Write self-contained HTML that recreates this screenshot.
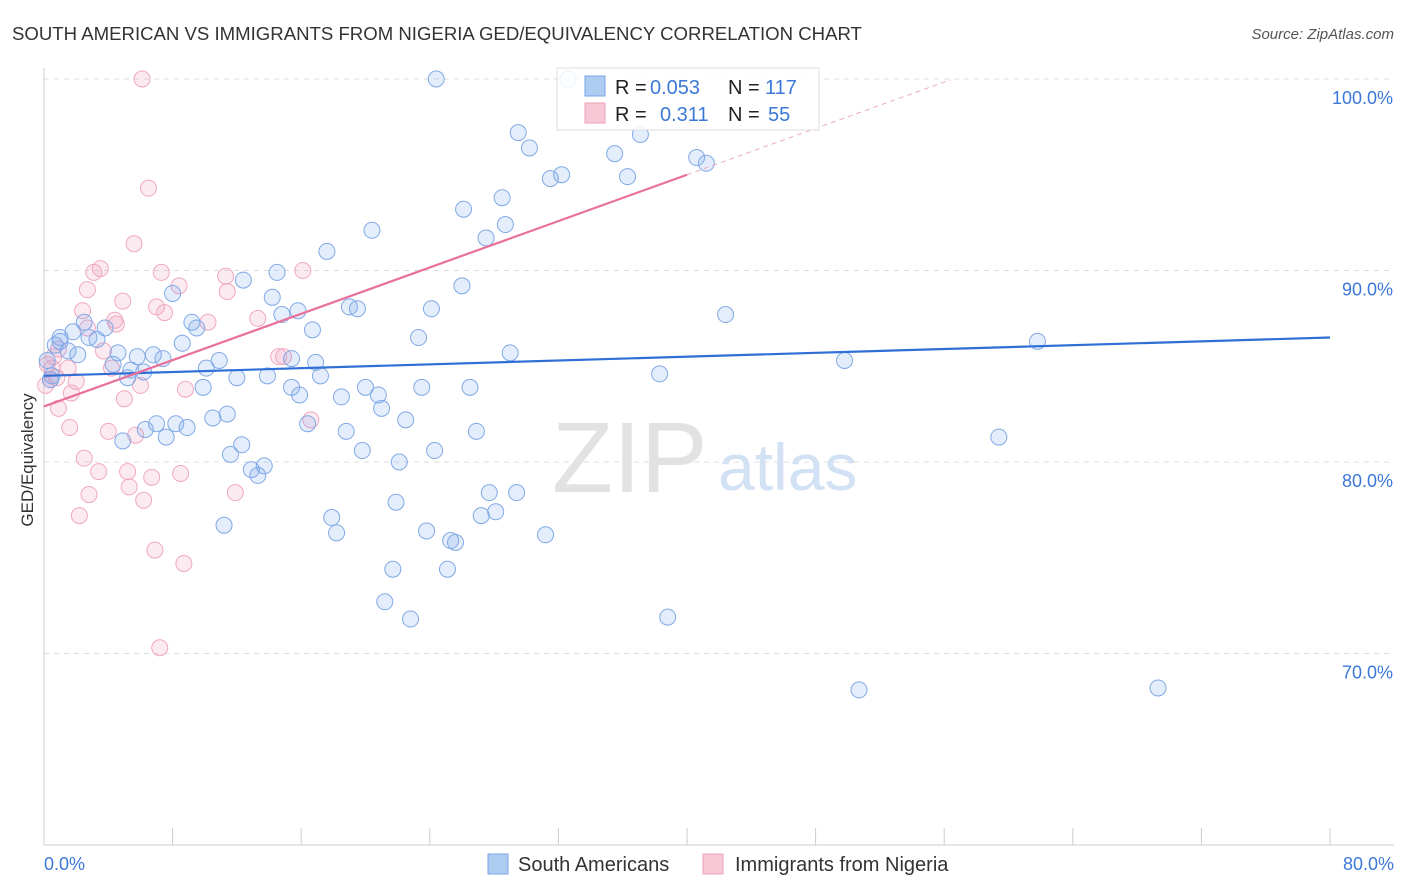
<!DOCTYPE html>
<html><head><meta charset="utf-8">
<style>
body{margin:0;background:#fff;font-family:"Liberation Sans",sans-serif;}
#wrap{position:relative;width:1406px;height:892px;overflow:hidden;}
svg text{font-family:"Liberation Sans",sans-serif;}
</style></head>
<body>
<div id="wrap">
<svg id="chart" width="1406" height="892">
  <text x="12" y="40" font-size="18.6" fill="#333">SOUTH AMERICAN VS IMMIGRANTS FROM NIGERIA GED/EQUIVALENCY CORRELATION CHART</text>
  <text x="1394" y="39" font-size="15" fill="#555" font-style="italic" text-anchor="end">Source: ZipAtlas.com</text>
  <text x="33" y="460" font-size="17" fill="#333" text-anchor="middle" transform="rotate(-90 33 460)">GED/Equivalency</text>
  <g id="grid"></g>
  <text x="552" y="492" font-size="100" fill="#e2e2e2" font-family="Liberation Serif">ZIP</text>
  <text x="718" y="490" font-size="66" fill="#d3e1f4">atlas</text>
  <g id="pts"></g>
  <g id="lines"></g>
  <g>
    <rect x="557" y="68" width="262" height="62" fill="rgba(255,255,255,0.85)" stroke="#ddd"/>
    <rect x="585" y="76" width="20" height="20" fill="#aecbf2" stroke="#7aa5e5"/>
    <rect x="585" y="103" width="20" height="20" fill="#f8c7d6" stroke="#ee9fba"/>
    <text x="615" y="94" font-size="20" fill="#222">R = </text><text x="650" y="94" font-size="20" fill="#3c78d8">0.053</text>
    <text x="728" y="94" font-size="20" fill="#222">N = </text><text x="765" y="94" font-size="20" fill="#3c78d8">117</text>
    <text x="615" y="121" font-size="20" fill="#222">R = </text><text x="660" y="121" font-size="20" fill="#3c78d8">0.311</text>
    <text x="728" y="121" font-size="20" fill="#222">N = </text><text x="768" y="121" font-size="20" fill="#3c78d8">55</text>
  </g>
  <g>
    <rect x="488" y="854" width="20" height="20" fill="#aecbf2" stroke="#7aa5e5"/>
    <text x="518" y="871" font-size="20" fill="#333">South Americans</text>
    <rect x="703" y="854" width="20" height="20" fill="#f8c7d6" stroke="#ee9fba"/>
    <text x="735" y="871" font-size="20" fill="#333">Immigrants from Nigeria</text>
  </g>
</svg>
</div>
<script>
const blueX=[24.4,32.6,29.5,30.2,35.5,37.1,40.6,41.2,31.5,32.2,36.3,28.5,26.1,28.7,27.5,20.4,17.6,14.5,12.4,14.2,8.0,26.0,19.0,19.5,15.8,14.8,24.1,42.4,9.2,9.5,16.7,3.8,2.5,1.0,1.8,3.3,23.3,8.6,4.6,6.8,5.8,7.4,10.9,15.4,16.9,29.0,49.8,61.8,4.3,5.4,6.2,10.1,12.0,13.9,17.2,38.3,0.7,1.5,2.1,0.2,0.5,5.2,9.9,15.4,15.9,18.5,20.0,20.8,23.5,26.5,21.0,16.4,22.5,10.5,11.4,7.0,8.2,8.9,6.3,7.6,4.9,18.8,26.9,12.3,11.6,19.8,24.3,12.9,13.7,13.3,22.1,59.4,27.7,29.4,21.9,17.9,11.2,18.2,23.8,27.2,28.1,31.2,25.3,25.6,21.7,25.1,21.2,22.8,38.8,50.7,69.3,1.0,0.4,2.8];
const blueY=[100,100,97.2,96.4,96.1,97.1,95.9,95.6,94.8,95.0,94.9,93.8,93.2,92.4,91.7,92.1,91.0,89.9,89.5,88.6,88.8,89.2,88.1,88.0,87.9,87.7,88.0,87.7,87.3,87.0,86.9,87.0,87.3,86.5,86.8,86.4,86.5,86.2,85.7,85.6,85.5,85.4,85.3,85.4,85.2,85.7,85.3,86.3,85.1,84.8,84.7,84.9,84.4,84.5,84.5,84.6,86.1,85.8,85.6,85.3,84.5,84.4,83.9,83.9,83.5,83.4,83.9,83.5,83.9,83.9,82.8,82.0,82.2,82.3,82.5,82.0,82.0,81.8,81.7,81.3,81.1,81.6,81.6,80.9,80.4,80.6,80.6,79.6,79.8,79.3,80.0,81.3,78.4,78.4,77.9,77.1,76.7,76.3,76.4,77.2,77.4,76.2,75.9,75.8,74.4,74.4,72.7,71.8,71.9,68.1,68.2,86.3,84.3,86.5];
const pinkX=[6.1,6.5,5.6,3.5,3.1,7.3,8.4,11.3,16.1,2.7,4.9,11.4,7.0,2.4,7.5,4.4,10.2,4.5,13.3,2.7,0.9,0.6,3.7,0.2,0.5,4.2,1.5,0.8,2.0,6.0,8.8,14.6,14.9,1.7,5.0,0.9,1.6,4.0,5.7,16.6,2.5,3.4,5.2,6.7,8.5,2.8,5.3,11.9,6.2,2.2,6.9,8.7,7.2,0.1,0.4];
const pinkY=[100,94.3,91.4,90.1,89.9,89.9,89.2,89.7,90.0,89.0,88.4,88.9,88.1,87.9,87.8,87.4,87.3,87.2,87.5,87.0,85.9,85.5,85.8,85.1,84.9,84.9,84.9,84.4,84.2,84.0,83.8,85.5,85.5,83.6,83.3,82.8,81.8,81.6,81.4,82.2,80.2,79.5,79.5,79.2,79.4,78.3,78.7,78.4,78.0,77.2,75.4,74.7,70.3,84.0,84.3];
const yTicks=[100,90,80,70];
const yTickLabels=["100.0%","90.0%","80.0%","70.0%"];
const xTicks=[0,8,16,24,32,40,48,56,64,72,80];
const xEndLabels=["0.0%","80.0%"];
const blueTrend=[84.5,86.5]; // y at x=0 and x=80
const pinkTrend=[82.9,95.0]; // y at x=0 and x=40
const pinkDashEnd=56.4;

const X=v=>44+v*16.075;
const Y=v=>79+(100-v)*19.15;
const NS="http://www.w3.org/2000/svg";
function mk(tag,attrs,parent){const e=document.createElementNS(NS,tag);for(const k in attrs)e.setAttribute(k,attrs[k]);parent.appendChild(e);return e;}
const grid=document.getElementById('grid');
yTicks.forEach((t,i)=>{
  const l=mk('line',{x1:44,x2:1394,y1:Y(t),y2:Y(t),stroke:'#dcdcdc','stroke-dasharray':'5,5'},grid);
  
  
  const tx=mk('text',{x:1393,y:Y(t)+25,'font-size':18,fill:'#3c78d8','text-anchor':'end'},grid);
  tx.textContent=yTickLabels[i];
  
  
});
const ax=mk('line',{x1:44,x2:44,y1:68,y2:845,stroke:'#ccc'},grid);


const bx=mk('line',{x1:44,x2:1394,y1:845,y2:845,stroke:'#ccc'},grid);


xTicks.forEach(t=>{
  const l=mk('line',{x1:X(t),x2:X(t),y1:828,y2:845,stroke:'#ccc'},grid);
  
  
});
[[0,'start',44],[1,'end',1394]].forEach(([i,a,x])=>{
  const tx=mk('text',{x:x,y:870,'font-size':18,fill:'#3c78d8','text-anchor':a},grid);
  tx.textContent=xEndLabels[i];
  
  
});
const pts=document.getElementById('pts');
pinkX.forEach((x,i)=>{
  const c=mk('circle',{cx:X(x),cy:Y(pinkY[i]),r:8,fill:'rgba(243,160,190,0.22)',stroke:'#f0a8c0','stroke-width':1},pts);
  
  
});
blueX.forEach((x,i)=>{
  const c=mk('circle',{cx:X(x),cy:Y(blueY[i]),r:8,fill:'rgba(120,165,235,0.2)',stroke:'#80a9e6','stroke-width':1},pts);
  
  
});
const lines=document.getElementById('lines');
const bl=mk('line',{x1:X(0),y1:Y(blueTrend[0]),x2:X(80),y2:Y(blueTrend[1]),stroke:'#2f6fd6','stroke-width':2.2},lines);


const pl=mk('line',{x1:X(0),y1:Y(pinkTrend[0]),x2:X(40),y2:Y(pinkTrend[1]),stroke:'#e8709a','stroke-width':2.2},lines);


const slope=(pinkTrend[1]-pinkTrend[0])/40;
const pd=mk('line',{x1:X(40),y1:Y(pinkTrend[1]),x2:X(pinkDashEnd),y2:Y(pinkTrend[0]+slope*pinkDashEnd),stroke:'#eeaac2','stroke-width':1,'stroke-dasharray':'5,4'},lines);


</script>
</body></html>
